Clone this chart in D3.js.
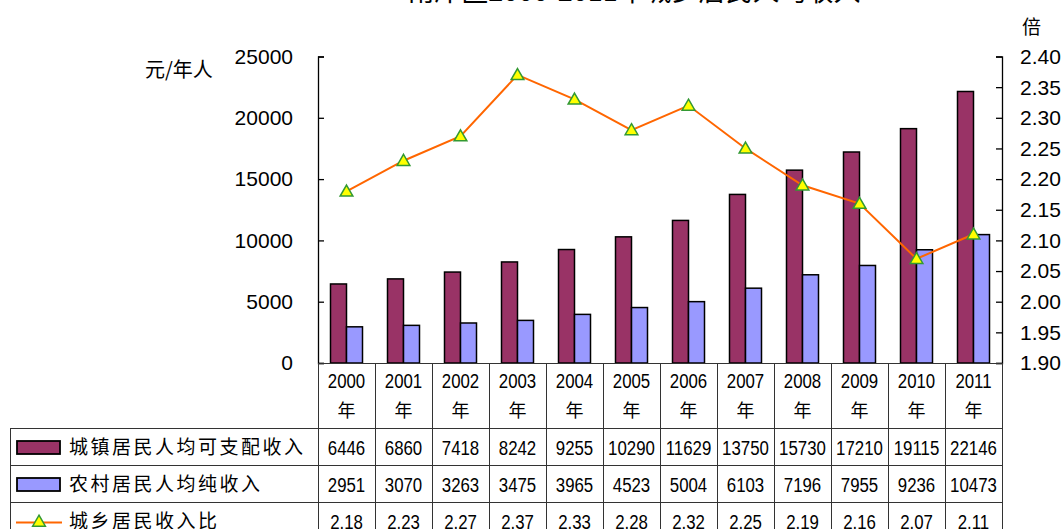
<!DOCTYPE html>
<html lang="zh">
<head>
    <meta charset="UTF-8">
    <title>南岸区2000-2011年城乡居民人均收入</title>
    <script src="https://d3js.org/d3.v7.min.js"></script>
    <style>
        body {
            margin: 0;
            background: #fff;
        }
        svg {
            display: block;
            font-family: "Liberation Sans", Arial, "Noto Sans CJK SC", sans-serif;
        }
        .grid {
            stroke: #333;
            stroke-width: 1;
            shape-rendering: crispEdges;
        }
        .cn {
            font-family: "Noto Sans CJK SC", sans-serif;
        }
    </style>
</head>
<body>
<svg width="1064" height="529"></svg>
<script>
    // data
    const years = ["2000", "2001", "2002", "2003", "2004", "2005", "2006", "2007", "2008", "2009", "2010", "2011"];
    const urbanIncome = [6446, 6860, 7418, 8242, 9255, 10290, 11629, 13750, 15730, 17210, 19115, 22146];
    const ruralIncome = [2951, 3070, 3263, 3475, 3965, 4523, 5004, 6103, 7196, 7955, 9236, 10473];
    const ratio = [2.18, 2.23, 2.27, 2.37, 2.33, 2.28, 2.32, 2.25, 2.19, 2.16, 2.07, 2.11];
    const seriesNames = ["城镇居民人均可支配收入", "农村居民人均纯收入", "城乡居民收入比"];
    const leftTicks = [0, 5000, 10000, 15000, 20000, 25000];
    const rightTicks = [1.90, 1.95, 2.00, 2.05, 2.10, 2.15, 2.20, 2.25, 2.30, 2.35, 2.40];

    const svg = d3.select("svg");
    const plot = { left: 318, right: 1002, top: 56.5, bottom: 363 };
    const tableLeft = 10;
    const rowEdges = [363, 428, 465, 502, 539]; // header, row1, row2, row3

    const colors = { urban: "#993366", rural: "#9999FF", line: "#FF6600", marker: "#FFFF00", markerStroke: "#339933" };

    const x0 = d3.scaleBand().domain(years).range([plot.left, plot.right]).padding(0);
    const groupW = 32;
    const x1 = d3.scaleBand().domain(["urban", "rural"]).range([0, groupW]);
    const yL = d3.scaleLinear().domain([0, 25000]).range([plot.bottom, plot.top]);
    const yR = d3.scaleLinear().domain([1.90, 2.40]).range([plot.bottom, plot.top]);
    const groupOff = (x0.bandwidth() - groupW) / 2;

    // title (cut off at the top of the image)
    svg.append("text")
        .attr("class", "cn")
        .attr("x", 634).attr("y", 0.5)
        .attr("text-anchor", "middle")
        .attr("font-size", 27)
        .text("南岸区2000-2011年城乡居民人均收入");

    // bars
    const rows = years.map((y, i) => ({ year: y, urban: urbanIncome[i], rural: ruralIncome[i], ratio: ratio[i] }));
    const g = svg.append("g");
    ["urban", "rural"].forEach(key => {
        g.selectAll("rect." + key)
            .data(rows)
            .enter().append("rect")
            .attr("class", key)
            .attr("x", d => x0(d.year) + groupOff + x1(key))
            .attr("y", d => yL(d[key]))
            .attr("width", x1.bandwidth())
            .attr("height", d => yL(0) - yL(d[key]))
            .attr("fill", colors[key])
            .attr("stroke", "#000")
            .attr("stroke-width", 1.5);
    });

    // axes
    const axisL = svg.append("g").attr("transform", `translate(${plot.left},0)`)
        .call(d3.axisRight(yL).tickValues(leftTicks).tickSize(6).tickFormat(""));
    const axisR = svg.append("g").attr("transform", `translate(${plot.right},0)`)
        .call(d3.axisLeft(yR).tickValues(rightTicks).tickSize(6).tickFormat(""));
    [axisL, axisR].forEach(a => {
        a.select(".domain").attr("stroke", "#000").attr("stroke-width", 1.3);
        a.selectAll(".tick line").attr("stroke", "#000").attr("stroke-width", 1.3);
    });

    svg.append("g").selectAll("text")
        .data(leftTicks)
        .enter().append("text")
        .attr("x", 293)
        .attr("y", d => yL(d))
        .attr("dy", "0.35em")
        .attr("text-anchor", "end")
        .attr("font-size", 21)
        .text(d => d);

    svg.append("g").selectAll("text")
        .data(rightTicks)
        .enter().append("text")
        .attr("x", 1020)
        .attr("y", d => yR(d))
        .attr("dy", "0.35em")
        .attr("font-size", 21)
        .text(d => d.toFixed(2));

    svg.append("text").attr("class", "cn")
        .attr("x", 145).attr("y", 70).attr("dy", "0.35em")
        .attr("font-size", 20)
        .text("元/年人");
    svg.append("text").attr("class", "cn")
        .attr("x", 1022).attr("y", 27).attr("dy", "0.35em")
        .attr("font-size", 19)
        .text("倍");

    // ratio line
    const line = d3.line()
        .x(d => x0(d.year) + x0.bandwidth() / 2)
        .y(d => yR(d.ratio));
    svg.append("path")
        .datum(rows)
        .attr("d", line)
        .attr("fill", "none")
        .attr("stroke", colors.line)
        .attr("stroke-width", 2);

    const tri = d3.symbol(d3.symbolTriangle).size(70);
    svg.append("g").selectAll("path")
        .data(rows)
        .enter().append("path")
        .attr("d", tri)
        .attr("transform", d => `translate(${x0(d.year) + x0.bandwidth() / 2},${yR(d.ratio) + 1})`)
        .attr("fill", colors.marker)
        .attr("stroke", colors.markerStroke)
        .attr("stroke-width", 1.5);

    // data table
    const grid = svg.append("g");
    grid.append("line").attr("class", "grid")
        .attr("x1", plot.left).attr("x2", plot.right)
        .attr("y1", rowEdges[0]).attr("y2", rowEdges[0])
        .attr("stroke", "#000").attr("stroke-width", 1.5);
    rowEdges.slice(1, 4).forEach(yy => {
        grid.append("line").attr("class", "grid")
            .attr("x1", tableLeft).attr("x2", plot.right)
            .attr("y1", yy).attr("y2", yy);
    });
    grid.append("line").attr("class", "grid")
        .attr("x1", tableLeft).attr("x2", tableLeft)
        .attr("y1", rowEdges[1]).attr("y2", 529);
    years.concat(["end"]).forEach((yr, i) => {
        const xx = plot.left + i * x0.bandwidth();
        grid.append("line").attr("class", "grid")
            .attr("x1", xx).attr("x2", xx)
            .attr("y1", rowEdges[0]).attr("y2", 529);
    });

    const colX = yr => x0(yr) + x0.bandwidth() / 2;
    const cellFont = 20.5;

    // squeeze table digits horizontally like the narrow font in the picture,
    // re-centring each one by hand on its column
    function narrow(sel) {
        sel.each(function (d) {
            const w = this.getComputedTextLength() * 0.82;
            d3.select(this)
                .attr("text-anchor", "start")
                .attr("x", colX(d) - w / 2)
                .attr("textLength", w)
                .attr("lengthAdjust", "spacingAndGlyphs");
        });
    }

    // header: year + 年
    svg.append("g").selectAll("text")
        .data(years)
        .enter().append("text")
        .attr("y", 381).attr("dy", "0.35em")
        .attr("font-size", cellFont)
        .text(d => d)
        .call(narrow);
    svg.append("g").selectAll("text")
        .data(years)
        .enter().append("text")
        .attr("class", "cn")
        .attr("x", colX).attr("y", 411).attr("dy", "0.35em")
        .attr("text-anchor", "middle").attr("font-size", 18)
        .text("年");

    const tableRows = [
        { vals: urbanIncome, fmt: d => d },
        { vals: ruralIncome, fmt: d => d },
        { vals: ratio, fmt: d => d.toFixed(2) }
    ];
    tableRows.forEach((r, ri) => {
        const cy = (rowEdges[ri + 1] + rowEdges[ri + 2]) / 2 + 1;
        svg.append("g").selectAll("text")
            .data(years)
            .enter().append("text")
            .attr("y", cy).attr("dy", "0.35em")
            .attr("font-size", cellFont)
            .text((d, i) => r.fmt(r.vals[i]))
            .call(narrow);

        // legend key + name
        const key = svg.append("g");
        if (ri < 2) {
            key.append("rect")
                .attr("x", 17).attr("y", cy - 6.5)
                .attr("width", 43).attr("height", 13)
                .attr("fill", ri === 0 ? colors.urban : colors.rural)
                .attr("stroke", "#000").attr("stroke-width", 1.8);
        } else {
            key.append("line")
                .attr("x1", 16).attr("x2", 62)
                .attr("y1", cy + 1).attr("y2", cy + 1)
                .attr("stroke", colors.line).attr("stroke-width", 2);
            key.append("path")
                .attr("d", tri)
                .attr("transform", `translate(39,${cy + 1})`)
                .attr("fill", colors.marker)
                .attr("stroke", colors.markerStroke)
                .attr("stroke-width", 1.5);
        }
        key.append("text")
            .attr("class", "cn")
            .attr("x", 69).attr("y", cy).attr("dy", "0.35em")
            .attr("font-size", 19)
            .attr("letter-spacing", 2.5)
            .text(seriesNames[ri]);
    });
</script>
</body>
</html>
